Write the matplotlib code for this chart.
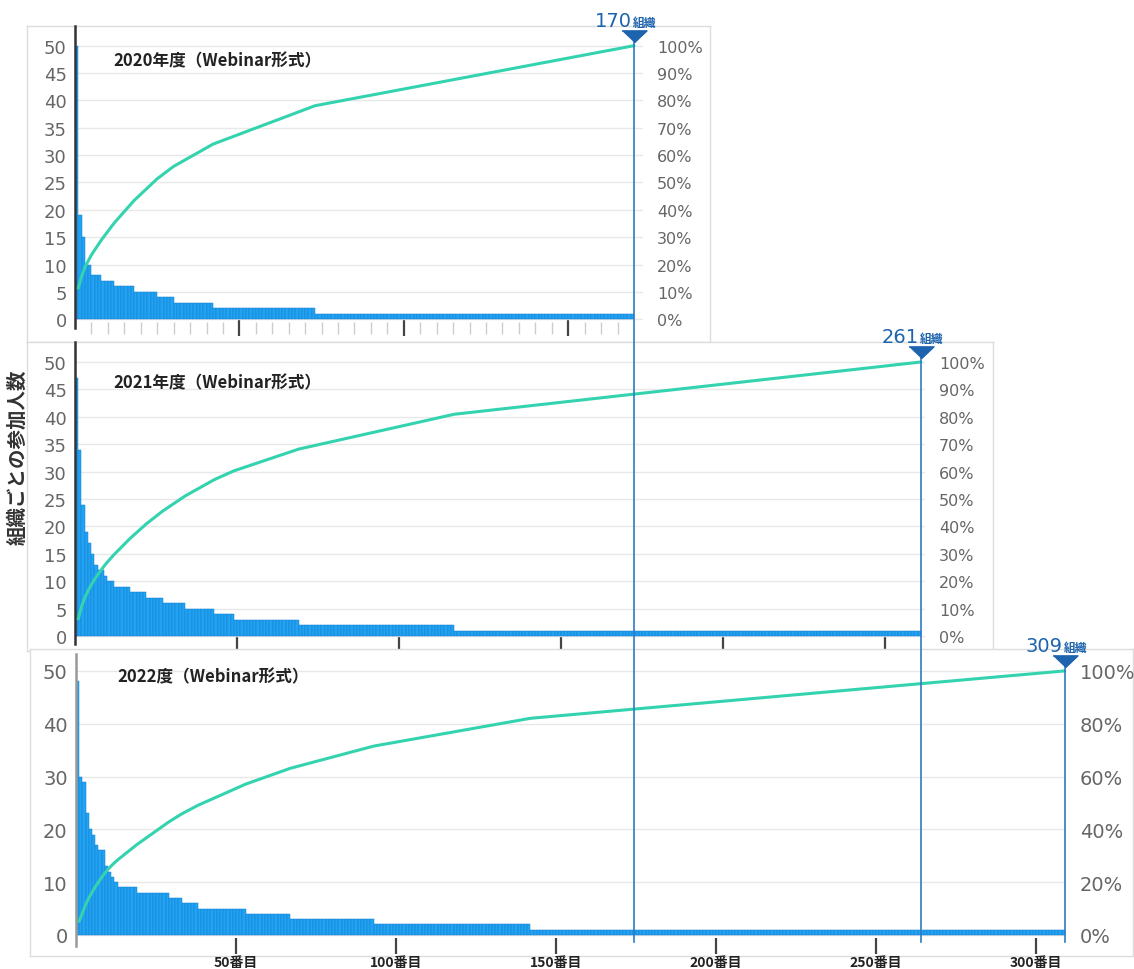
import numpy as np
import matplotlib.pyplot as plt
from matplotlib.ticker import FixedLocator, FuncFormatter

W, H = 1134, 970
JP = ['Noto Sans CJK JP', 'DejaVu Sans']
NUM = ['DejaVu Sans']

# participants per organisation, sorted descending (value, number of organisations)
values_2020 = [50, 19, 15, 10, 8, 7, 6, 5, 4, 3, 2, 1]
repeats_2020 = [1, 1, 1, 2, 3, 4, 6, 7, 5, 12, 31, 97]

values_2021 = [47, 34, 24, 19, 17, 15, 13, 12, 11, 10, 9, 8, 7, 6, 5, 4, 3, 2, 1]
repeats_2021 = [1, 1, 1, 1, 1, 1, 1, 2, 1, 2, 5, 5, 5, 7, 9, 6, 20, 48, 144]

values_2022 = [48, 30, 29, 23, 20, 19, 17, 16, 13, 12, 11, 10, 9, 8, 7, 6, 5, 4, 3, 2, 1]
repeats_2022 = [1, 1, 1, 1, 1, 1, 1, 2, 1, 1, 1, 1, 6, 10, 4, 5, 15, 14, 26, 49, 167]

titles = ['2020年度（Webinar形式）', '2021年度（Webinar形式）', '2022度（Webinar形式）']
org_totals = [170, 261, 309]
org_unit = '組織'
rank_ticks = [50, 100, 150, 200, 250, 300]
rank_labels = ['50番目', '100番目', '150番目', '200番目', '250番目', '300番目']
ylabel = '組織ごとの参加人数'

BAR = '#21a2f3'
BAR_EDGE = '#1780cf'
LINE = '#34d3b0'
VLINE = '#2b7cc4'
MARK = '#1d63ad'
GRID = '#e8e8e8'
FRAME = '#dcdcdc'

# layout in pixels (left, top, right, bottom)
panels = [
    dict(vals=values_2020, reps=repeats_2020, frame=(27, 27, 710, 343), plot=(75, 27, 643, 329),
         scale=3.288, ylim=(-1.6, 53.6), ystep=5, pstep=10, lsize=13, rsize=11.5,
         spine='#333333', title_xy=(113, 61)),
    dict(vals=values_2021, reps=repeats_2021, frame=(27, 343, 993, 652), plot=(75, 343, 925, 645),
         scale=3.241, ylim=(-1.45, 53.65), ystep=5, pstep=10, lsize=13, rsize=11.5,
         spine='#333333', title_xy=(113, 383)),
    dict(vals=values_2022, reps=repeats_2022, frame=(30, 650, 1133, 957), plot=(76, 655, 1066, 947),
         scale=3.2, ylim=(-2.1, 53.2), ystep=10, pstep=20, lsize=14, rsize=14,
         spine='#999999', title_xy=(117, 677)),
]


def px_rect(l, t, r, b):
    return [l / W, 1 - b / H, (r - l) / W, (b - t) / H]


fig = plt.figure(figsize=(W / 100, H / 100), dpi=100)
fig.patch.set_facecolor('white')

overlay = fig.add_axes([0, 0, 1, 1], zorder=50)
overlay.set_xlim(0, W)
overlay.set_ylim(H, 0)
overlay.axis('off')
overlay.patch.set_visible(False)

tri = [(-1, 0.45), (1, 0.45), (0, -0.5)]

for i, p in enumerate(panels):
    frame = fig.add_axes(px_rect(*p['frame']), zorder=3 * i + 1)
    frame.set_facecolor('white')
    frame.set_xticks([])
    frame.set_yticks([])
    for s in frame.spines.values():
        s.set_color(FRAME)
        s.set_linewidth(1)

    counts = np.repeat(p['vals'], p['reps'])
    n = len(counts)
    ranks = np.arange(1, n + 1)
    cum_pct = np.cumsum(counts) / counts.sum() * 100

    l, t, r, b = p['plot']
    ax = fig.add_axes(px_rect(l, t, r, b), zorder=3 * i + 2)
    ax.patch.set_visible(False)
    ax.bar(ranks - 0.5, counts, width=1.0, color=BAR, edgecolor=BAR_EDGE, linewidth=0.35, zorder=2)
    ax.set_xlim(0, (r - l) / p['scale'])
    ax.set_ylim(*p['ylim'])
    ax.set_yticks(np.arange(0, 51, p['ystep']))
    ax.yaxis.grid(True, color=GRID, linewidth=1)
    ax.set_axisbelow(True)
    for k, s in ax.spines.items():
        s.set_visible(k == 'left')
    ax.spines['left'].set_color(p['spine'])
    ax.spines['left'].set_linewidth(1.8)
    ax.tick_params(axis='y', length=0, pad=6, labelsize=p['lsize'], labelcolor='#666666')
    for lbl in ax.get_yticklabels():
        lbl.set_fontfamily(NUM)

    majors = [v for v in rank_ticks if v < n]
    ax.xaxis.set_major_locator(FixedLocator(majors))
    ax.tick_params(axis='x', which='major', direction='inout', length=11, width=1.6, color='#444444')
    if i == 0:
        minors = [v for v in range(5, n, 5) if v not in majors]
        ax.xaxis.set_minor_locator(FixedLocator(minors))
        ax.tick_params(axis='x', which='minor', direction='inout', length=9, width=1, color='#cccccc')
    if i == 2:
        ax.set_xticklabels(rank_labels[:len(majors)], fontfamily=JP, fontweight='bold', fontsize=10)
        ax.tick_params(axis='x', which='major', pad=1, labelcolor='#222222')
    else:
        ax.set_xticklabels([])

    ax2 = ax.twinx()
    ax2.set_zorder(3 * i + 3)
    ax2.patch.set_visible(False)
    ax2.plot(ranks, cum_pct, color=LINE, linewidth=2.2, solid_capstyle='round')
    ax2.set_ylim(p['ylim'][0] * 2, p['ylim'][1] * 2)
    ax2.set_yticks(np.arange(0, 101, p['pstep']))
    ax2.yaxis.set_major_formatter(FuncFormatter(lambda v, pos: f'{v:.0f}%'))
    for s in ax2.spines.values():
        s.set_visible(False)
    ax2.tick_params(axis='y', length=0, pad=10, labelsize=p['rsize'], labelcolor='#666666')
    for lbl in ax2.get_yticklabels():
        lbl.set_fontfamily(NUM)

    overlay.text(p['title_xy'][0], p['title_xy'][1], titles[i], fontfamily=JP, fontweight='bold',
                 fontsize=12, color='#222222', ha='left', va='center')

    # end-of-curve marker with organisation count
    xd, yd = ax2.transData.transform((n, 100))
    mx, my = xd, H - yd
    overlay.plot([mx, mx], [my - 5, 943], color=VLINE, linewidth=1.2, zorder=5)
    overlay.plot(mx, my - 10, marker=tri, markersize=18, color=MARK, zorder=6)
    overlay.text(mx - 2, my - 20, str(org_totals[i]), fontfamily=NUM, fontsize=14,
                 color=MARK, ha='right', va='baseline', zorder=7)
    overlay.text(mx - 1, my - 20, org_unit, fontfamily=JP, fontweight='bold', fontsize=8.5,
                 color=MARK, ha='left', va='baseline', zorder=7)

fig.text(18 / W, 1 - 457 / H, ylabel, rotation=90, ha='center', va='center', fontsize=14,
         fontweight='bold', color='#333333', fontfamily=JP, zorder=100)

fig.savefig('out.png', dpi=100)
